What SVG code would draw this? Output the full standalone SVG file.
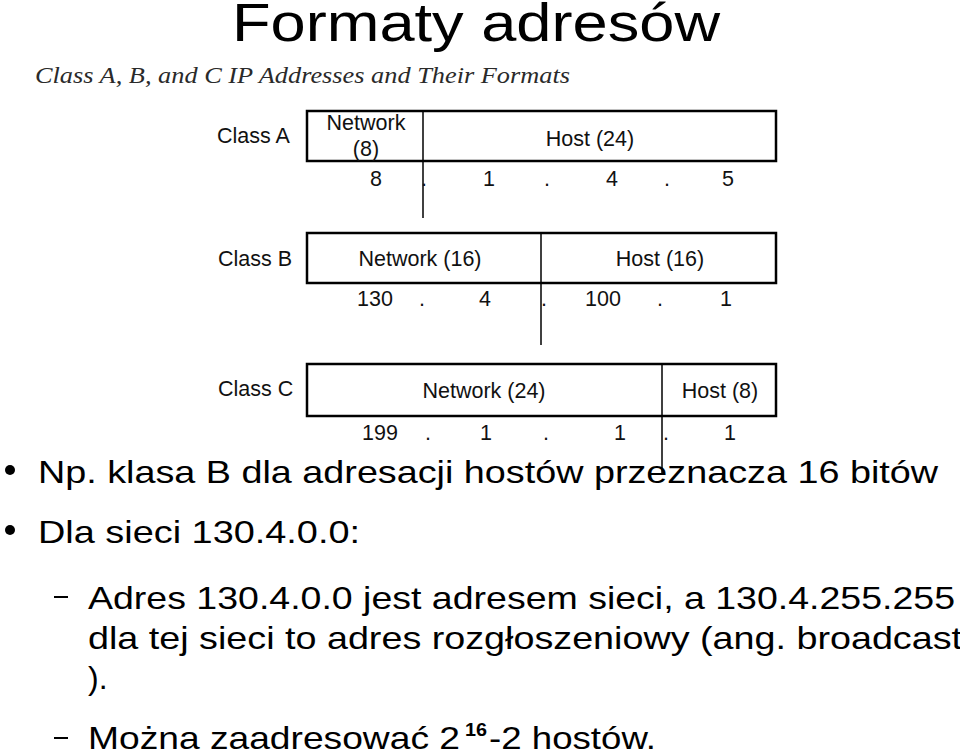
<svg xmlns="http://www.w3.org/2000/svg" width="960" height="754" viewBox="0 0 960 754">
<style>
.t{font-family:"Liberation Sans",Arial,sans-serif;fill:#000}
.d{font-family:"Liberation Sans",Arial,sans-serif;font-size:21.5px;fill:#111}
.m{text-anchor:middle}
.box{fill:#fff;stroke:#000;stroke-width:2.5}
.dv{stroke:#000;stroke-width:1.5;fill:none}
.sub{font-family:"Liberation Serif","Times New Roman",serif;font-style:italic;font-size:23.5px;fill:#2a2a2a}
.b{font-size:32px}
</style>
<rect width="960" height="754" fill="#fff"/>
<text class="t" x="232" y="41" font-size="53" textLength="488" lengthAdjust="spacingAndGlyphs">Formaty adresów</text>
<text class="sub" x="35" y="83" textLength="535" lengthAdjust="spacingAndGlyphs">Class A, B, and C IP Addresses and Their Formats</text>

<g id="classA">
<text class="d" x="217" y="143">Class A</text>
<rect class="box" x="307" y="111" width="469" height="50"/>
<line class="dv" x1="423" y1="111" x2="423" y2="218"/>
<text class="d m" x="366" y="130">Network</text>
<text class="d m" x="366" y="156">(8)</text>
<text class="d m" x="590" y="146">Host (24)</text>
<text class="d m" x="376" y="186">8</text>
<text class="d m" x="424" y="186">.</text>
<text class="d m" x="489" y="186">1</text>
<text class="d m" x="547" y="186">.</text>
<text class="d m" x="612" y="186">4</text>
<text class="d m" x="667" y="186">.</text>
<text class="d m" x="728" y="186">5</text>
</g>

<g id="classB">
<text class="d" x="218" y="266">Class B</text>
<rect class="box" x="307" y="233" width="469" height="50"/>
<line class="dv" x1="541" y1="233" x2="541" y2="345"/>
<text class="d m" x="420" y="266">Network (16)</text>
<text class="d m" x="660" y="266">Host (16)</text>
<text class="d m" x="375" y="306">130</text>
<text class="d m" x="422" y="306">.</text>
<text class="d m" x="485" y="306">4</text>
<text class="d m" x="544" y="306">.</text>
<text class="d m" x="603" y="306">100</text>
<text class="d m" x="660" y="306">.</text>
<text class="d m" x="726" y="306">1</text>
</g>

<g id="classC">
<text class="d" x="218" y="396">Class C</text>
<rect class="box" x="307" y="364" width="469" height="52"/>
<line class="dv" x1="662" y1="364" x2="662" y2="475"/>
<text class="d m" x="484" y="398">Network (24)</text>
<text class="d m" x="720" y="398">Host (8)</text>
<text class="d m" x="380" y="440">199</text>
<text class="d m" x="428" y="440">.</text>
<text class="d m" x="486" y="440">1</text>
<text class="d m" x="546" y="440">.</text>
<text class="d m" x="620" y="440">1</text>
<text class="d m" x="666" y="440">.</text>
<text class="d m" x="730" y="440">1</text>
</g>

<g id="bullets">
<circle cx="10" cy="470" r="5"/>
<text class="t b" x="38" y="483" textLength="900" lengthAdjust="spacingAndGlyphs">Np. klasa B dla adresacji hostów przeznacza 16 bitów</text>
<circle cx="10" cy="530" r="5"/>
<text class="t b" x="38" y="543" textLength="322" lengthAdjust="spacingAndGlyphs">Dla sieci 130.4.0.0:</text>
<line x1="54" y1="597" x2="68" y2="597" stroke="#000" stroke-width="2"/>
<text class="t b" x="88" y="609" textLength="867" lengthAdjust="spacingAndGlyphs">Adres 130.4.0.0 jest adresem sieci, a 130.4.255.255</text>
<text class="t b" x="88" y="649" textLength="874" lengthAdjust="spacingAndGlyphs">dla tej sieci to adres rozgłoszeniowy (ang. broadcast</text>
<text class="t b" x="88" y="689">).</text>
<line x1="54" y1="738" x2="68" y2="738" stroke="#000" stroke-width="2"/>
<text class="t b" x="88" y="749" textLength="372" lengthAdjust="spacingAndGlyphs">Można zaadresować 2</text>
<text class="t" x="465" y="736" font-size="18" font-weight="bold" textLength="22" lengthAdjust="spacingAndGlyphs">16</text>
<text class="t b" x="489" y="749" textLength="167" lengthAdjust="spacingAndGlyphs">-2 hostów.</text>
</g>
</svg>
